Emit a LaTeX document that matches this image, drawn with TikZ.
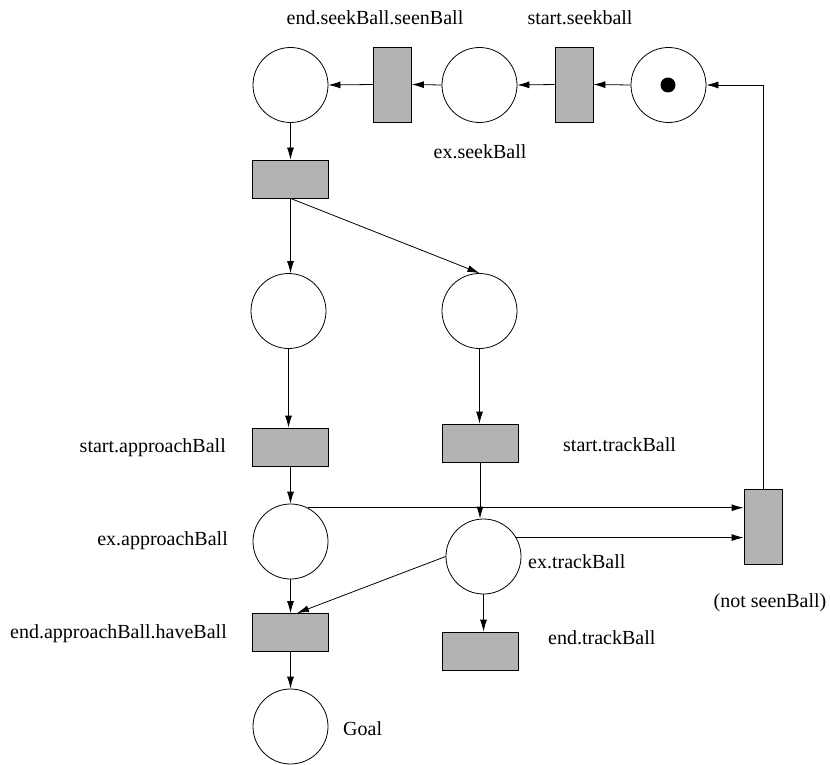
\documentclass[tikz,border=0pt]{standalone}
\usepackage{fontspec}
\setmainfont{Liberation Serif}
\newfontfamily\lserif{Liberation Serif}
\usetikzlibrary{arrows.meta,calc}
\definecolor{tgray}{HTML}{B3B3B3}
\tikzset{
  place/.style={draw=black,line width=0.8pt,circle,minimum size=75pt,inner sep=0pt,fill=white},
  transh/.style={draw=black,line width=0.8pt,fill=tgray,rectangle,minimum width=76pt,minimum height=38pt,inner sep=0pt},
  transv/.style={draw=black,line width=0.8pt,fill=tgray,rectangle,minimum width=38pt,minimum height=75pt,inner sep=0pt},
  lbl/.style={font=\lserif\fontsize{20}{24}\selectfont,inner sep=0pt},
  arc/.style={draw=black,line width=0.8pt,-{Latex[length=12pt,width=7pt]}}
}
\begin{document}
\begin{tikzpicture}[x=1pt,y=-1pt]
\useasboundingbox (0,0) rectangle (830,765);
% places
\node[place] (p1) at (290.5,85) {};
\node[place] (p2) at (479.5,85) {};
\node[place] (p3) at (668.5,85) {};
\fill[black] (668,85) circle (7.5pt);
\node[place] (p4) at (288.5,311) {};
\node[place] (p5) at (479.5,311) {};
\node[place] (p6) at (290.5,541.5) {};
\node[place] (p7) at (483.5,556.5) {};
\node[place] (p8) at (290.5,726.5) {};
% transitions
\node[transv] (t1) at (392.5,84.5) {};
\node[transv] (t2) at (574,84.5) {};
\node[transh] (t3) at (290.5,179) {};
\node[transh] (t4) at (290.5,447) {};
\node[transh] (t5) at (480,443) {};
\node[transv] (t6) at (763,526.5) {};
\node[transh] (t7) at (290.5,632.5) {};
\node[transh] (t8) at (480,651) {};
% labels
\node[lbl] (l1) at (375,18) {end.seekBall.seenBall};
\node[lbl] (l2) at (580,18) {start.seekball};
\node[lbl] (l3) at (480,152) {ex.seekBall};
\node[lbl,anchor=east] (l4) at (226,448) {start.approachBall};
\node[lbl,anchor=west] (l5) at (563,445) {start.trackBall};
\node[lbl,anchor=east] (l6) at (228,541) {ex.approachBall};
\node[lbl,anchor=west] (l7) at (528,562) {ex.trackBall};
\node[lbl] (l8) at (770,603) {(not seenBall)};
\node[lbl,anchor=east] (l9) at (227,634) {end.approachBall.haveBall};
\node[lbl,anchor=west] (l10) at (548,638) {end.trackBall};
\node[lbl,anchor=west] (l11) at (343,729) {Goal};
% arcs
\draw[arc] (t6.north) |- (p3.east);
\draw[arc] (p3.west) -- (t2.east);
\draw[arc] (t2.west) -- (p2.east);
\draw[arc] (p2.west) -- (t1.east);
\draw[arc] (t1.west) -- (p1.east);
\draw[arc] (p1.south) -- (t3.north);
\draw[arc] (t3.south) -- (t3.south |- p4.north);
\draw[arc] (t3.south) -- (p5.north);
\draw[arc] (p4.south) -- (p4.south |- t4.north);
\draw[arc] (p5.south) -- (p5.south |- t5.north);
\draw[arc] (t4.south) -- (p6.north);
\draw[arc] (t5.south) -- (t5.south |- p7.north);
\draw[arc] (p6.63) -- (p6.63 -| t6.west);
\draw[arc] (p7.30) -- (p7.30 -| t6.west);
\draw[arc] (p7.west) -- ($(t7.north)+(6.5,0)$);
\draw[arc] (p6.south) -- (t7.north);
\draw[arc] (p7.south) -- (p7.south |- t8.north);
\draw[arc] (t7.south) -- (p8.north);
\end{tikzpicture}
\end{document}
